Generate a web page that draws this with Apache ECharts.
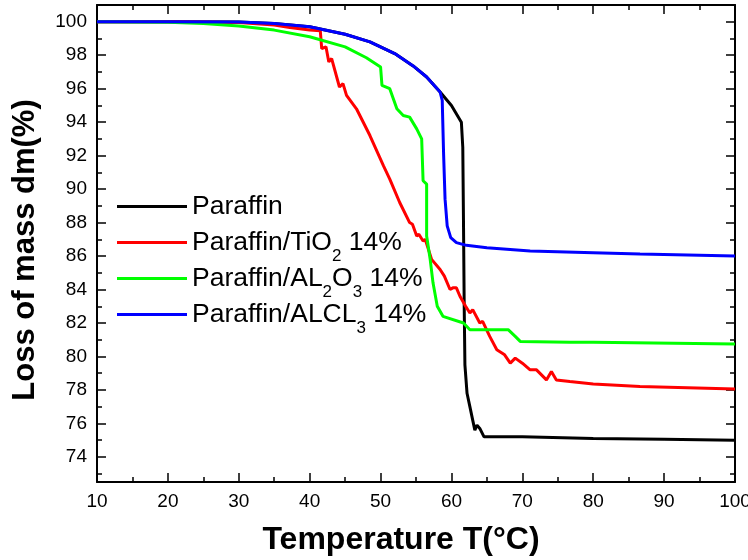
<!DOCTYPE html>
<html style="height: 100%">
<head>
    <meta charset="utf-8">
    <title>TGA</title>
    <script src="https://cdn.jsdelivr.net/npm/echarts@6/dist/echarts.min.js"></script>
</head>
<body style="height: 100%; margin: 0; background: #fff">
<div id="main" style="width: 748px; height: 560px"></div>

<script type="text/javascript">
    // series names (digits after letters become subscripts in legend)
    var seriesNames = ['Paraffin', 'Paraffin/TiO2 14%', 'Paraffin/AL2O3 14%', 'Paraffin/ALCL3 14%'];
    var seriesColors = ['#000000', '#ff0000', '#00ff00', '#0000ff'];

    // Paraffin
    var tParaffin = [10, 20, 30, 35, 40, 45, 48.5, 52, 54.6, 56.5, 58.4, 60, 61.4, 61.6, 61.7, 61.8, 61.9, 62.2, 62.6, 63.0, 63.3, 63.6, 64.0, 64.6, 70, 80, 90, 100];
    var mParaffin = [100, 100, 99.98, 99.9, 99.7, 99.25, 98.8, 98.1, 97.36, 96.7, 95.8, 95.0, 94.0, 92.5, 88, 83, 79.5, 77.8, 77.0, 76.2, 75.6, 75.9, 75.7, 75.2, 75.2, 75.1, 75.05, 75.0];

    // Paraffin/TiO2
    var tTiO2 = [10, 20, 30, 35, 37.2, 40, 41.5, 41.7, 42.3, 42.7, 43.1, 44.2, 44.7, 45.2, 46.6, 48.5, 50.4, 51.3, 52.7, 54.1, 54.5, 55.1, 55.4, 56.0, 56.3, 57.2, 58.4, 59.0, 59.8, 60.2, 60.7, 61.2, 62.0, 62.6, 63.0, 64.0, 64.4, 65.4, 66.4, 67.5, 68.3, 69.0, 70.0, 71.1, 72.0, 73.4, 74.1, 74.8, 76.7, 80, 86.6, 100];
    var mTiO2 = [100, 100, 99.95, 99.8, 99.66, 99.5, 99.46, 98.4, 98.5, 97.6, 97.8, 96.1, 96.3, 95.6, 94.8, 93.2, 91.4, 90.6, 89.2, 88.0, 87.9, 87.2, 87.3, 86.9, 87.0, 85.8, 85.2, 84.8, 84.0, 84.1, 84.1, 83.6, 83.0, 82.6, 82.8, 82.0, 82.1, 81.2, 80.4, 80.1, 79.6, 79.9, 79.6, 79.2, 79.2, 78.6, 79.1, 78.6, 78.5, 78.35, 78.2, 78.05];

    // Paraffin/AL2O3
    var tAl2O3 = [10, 20, 25, 30, 35, 40, 45, 48, 50.0, 50.2, 51.3, 51.8, 52.3, 53.2, 54.1, 55.1, 55.8, 56.0, 56.5, 56.5, 57.0, 57.4, 58.0, 58.8, 61.7, 62.6, 68.0, 69.0, 69.7, 76.7, 80, 100];
    var mAl2O3 = [100, 99.97, 99.9, 99.75, 99.5, 99.1, 98.5, 97.85, 97.3, 96.2, 96.0, 95.4, 94.8, 94.4, 94.3, 93.6, 93.0, 90.5, 90.3, 87.2, 85.8, 84.4, 83.0, 82.4, 82.0, 81.6, 81.6, 81.2, 80.9, 80.85, 80.85, 80.75];

    // Paraffin/ALCL3
    var tAlcl3 = [10, 20, 30, 35, 40, 45, 48.5, 52, 54.6, 56.5, 58.4, 58.7, 58.9, 59.1, 59.4, 59.9, 60.7, 62.1, 65, 71.1, 80, 86.6, 100];
    var mAlcl3 = [100, 100, 99.98, 99.9, 99.7, 99.25, 98.8, 98.1, 97.36, 96.7, 95.8, 95.3, 92, 89.4, 87.8, 87.1, 86.8, 86.64, 86.5, 86.3, 86.2, 86.12, 86.0];

    var yMajorTicks = [74, 76, 78, 80, 82, 84, 86, 88, 90, 92, 94, 96, 98, 100];
    var yMinorTicks = [73, 75, 77, 79, 81, 83, 85, 87, 89, 91, 93, 95, 97, 99, 101];

    function pairs(t, m) {
        var out = [];
        for (var i = 0; i < t.length; i++) {
            out.push([t[i], m[i]]);
        }
        return out;
    }

    var seriesData = [
        pairs(tParaffin, mParaffin),
        pairs(tTiO2, mTiO2),
        pairs(tAl2O3, mAl2O3),
        pairs(tAlcl3, mAlcl3)
    ];

    var font = "'Liberation Sans', Arial, sans-serif";
    var black = '#000';

    function xAx(pos, labels) {
        return {
            type: 'value', position: pos, min: 10, max: 100, interval: 10,
            axisLine: {show: true, lineStyle: {color: black, width: 2}},
            axisTick: {show: true, inside: true, length: 9, lineStyle: {color: black, width: 1.5}},
            minorTick: {show: true, splitNumber: 2, length: 5, lineStyle: {color: black, width: 1.5}},
            axisLabel: {show: labels, color: black, fontSize: 19, fontFamily: font, margin: 10},
            splitLine: {show: false}
        };
    }

    function yAx(pos, ticks, len, labels, line) {
        return {
            type: 'value', position: pos, min: 72.5, max: 101,
            axisLine: {show: line, lineStyle: {color: black, width: 2}},
            axisTick: {show: true, inside: true, length: len, customValues: ticks, lineStyle: {color: black, width: 1.5}},
            axisLabel: labels ? {show: true, customValues: ticks, color: black, fontSize: 19, fontFamily: font, margin: 10} : {show: false},
            splitLine: {show: false}
        };
    }

    var xAxes = [xAx('bottom', true), xAx('top', false)];
    xAxes[0].name = 'Temperature T(°C)';
    xAxes[0].nameLocation = 'middle';
    xAxes[0].nameGap = 42;
    xAxes[0].nameTextStyle = {color: black, fontSize: 32, fontWeight: 'bold', fontFamily: font, padding: [0, 30, 0, 0]};

    var yAxes = [
        yAx('left', yMajorTicks, 9, true, true),
        yAx('left', yMinorTicks, 5, false, false),
        yAx('right', yMajorTicks, 9, false, true),
        yAx('right', yMinorTicks, 5, false, false)
    ];
    yAxes[0].name = 'Loss of mass dm(%)';
    yAxes[0].nameLocation = 'middle';
    yAxes[0].nameGap = 56;
    yAxes[0].nameTextStyle = {color: black, fontSize: 31, fontWeight: 'bold', fontFamily: font, padding: [0, 13, 0, 0]};

    var series = [];
    for (var i = 0; i < seriesNames.length; i++) {
        series.push({
            name: seriesNames[i],
            type: 'line',
            data: seriesData[i],
            showSymbol: false,
            symbol: 'none',
            smooth: false,
            color: seriesColors[i],
            lineStyle: {width: 3, color: seriesColors[i]},
            z: i === 3 ? 5 : 2
        });
    }

    var myChart = echarts.init(document.getElementById('main'));
    var option = {
        animation: false,
        backgroundColor: '#fff',
        grid: {left: 97, right: 13, top: 5, bottom: 78, containLabel: false, outerBoundsMode: 'none'},
        legend: {
            orient: 'vertical',
            left: 117,
            top: 193,
            padding: 0,
            icon: 'rect',
            itemWidth: 70,
            itemHeight: 3,
            itemGap: 0,
            data: seriesNames,
            formatter: function (name) {
                var s = '{n|' + name.replace(/([A-Za-z])(\d)/g, '$1}{s|$2}{n|') + '}';
                if (s.indexOf('{s|') < 0) {
                    s += '{s| }';
                }
                return s;
            },
            textStyle: {
                color: black,
                fontFamily: font,
                fontSize: 26,
                rich: {
                    n: {fontSize: 26.5, fontFamily: font, color: black},
                    s: {fontSize: 17, fontFamily: font, color: black, padding: [28, 0, 0, 0]}
                }
            }
        },
        xAxis: xAxes,
        yAxis: yAxes,
        series: series
    };
    myChart.setOption(option, true);
</script>
</body>
</html>
